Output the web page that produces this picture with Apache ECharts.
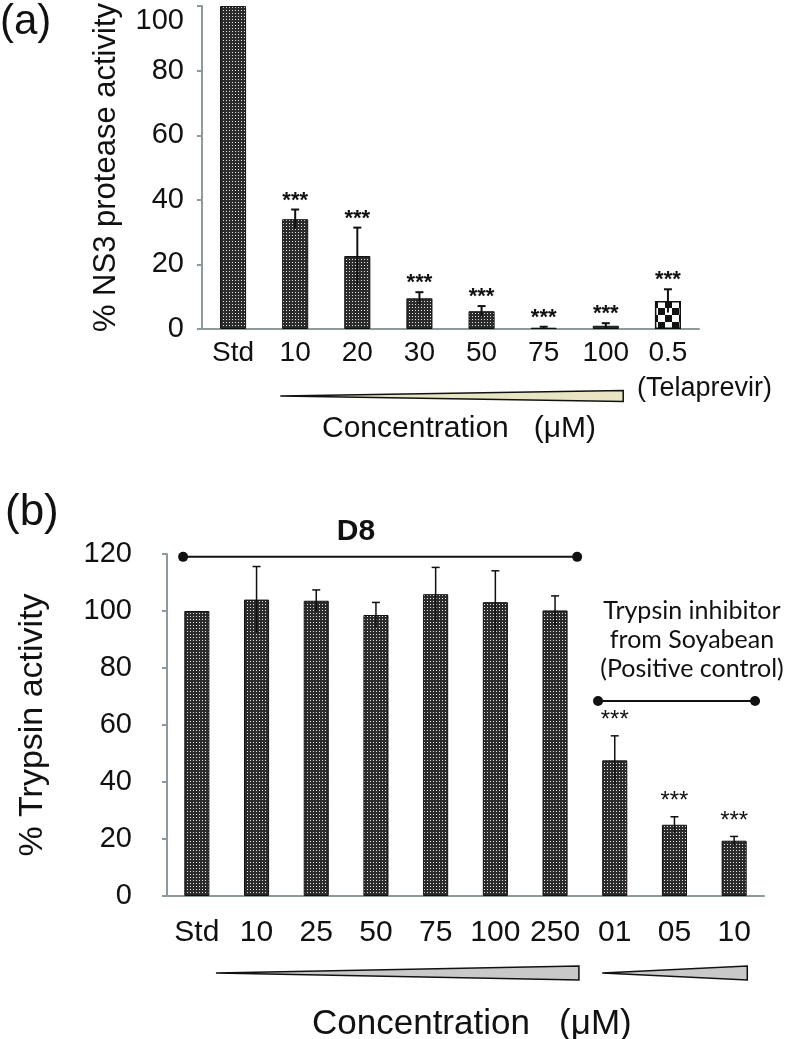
<!DOCTYPE html>
<html lang="en">
<head>
<meta charset="utf-8">
<title>NS3 protease / Trypsin activity</title>
<script src="https://cdn.jsdelivr.net/npm/echarts@6/dist/echarts.min.js"></script>
<style>
    html, body { margin: 0; background: #fff; }
    #main { width: 787px; height: 1039px; }
</style>
</head>
<body>
<div id="main"></div>
<script>
// (a) NS3 protease activity
const catsA = ['Std', '10', '20', '30', '50', '75', '100', '0.5'];
const valsA = [100, 34, 22.6, 9.5, 5.5, 0.4, 1, 8.7];
const errA = [0, 3, 8.8, 1.9, 1.6, 0.3, 0.8, 3.6];
const starsA = [false, true, true, true, true, true, true, true];

// (b) Trypsin activity
const catsB = ['Std', '10', '25', '50', '75', '100', '250', '01', '05', '10'];
const valsB = [100, 104, 103.6, 98.6, 105.9, 103.1, 100.2, 47.6, 25, 19.4];
const errB = [0, 11.6, 3.8, 4.4, 9.4, 11, 5.1, 8.6, 2.8, 1.5];
const starsB = [false, false, false, false, false, false, false, true, true, true];

const ticksA = [0, 100, 20];
const ticksB = [0, 120, 20];

const FONT = '"Liberation Sans", Arial, sans-serif';
const AXIS_GREY = '#8e9a9a';

function dotPattern() {
    const c = document.createElement('canvas');
    c.width = 3; c.height = 3;
    const g = c.getContext('2d');
    g.fillStyle = '#2b2b2b';
    g.fillRect(0, 0, 3, 3);
    g.fillStyle = '#e6e6e6';
    g.fillRect(1, 1, 1, 1);
    return c;
}

function checkPattern() {
    const c = document.createElement('canvas');
    c.width = 14; c.height = 14;
    const g = c.getContext('2d');
    g.fillStyle = '#fff';
    g.fillRect(0, 0, 14, 14);
    g.fillStyle = '#111';
    g.fillRect(0, 0, 7, 7);
    g.fillRect(7, 7, 7, 7);
    return c;
}

const dots = { image: dotPattern(), repeat: 'repeat' };
const checks = { image: checkPattern(), repeat: 'repeat' };

function errorSeries(idx, vals, errs, stars, lw, cap, starFont, starGap) {
    return {
        type: 'custom',
        xAxisIndex: idx,
        yAxisIndex: idx,
        z: 5,
        encode: { x: 0, y: 1 },
        data: vals.map((v, i) => [i, v, errs[i], stars[i] ? 1 : 0]),
        renderItem: function (params, api) {
            const i = api.value(0), v = api.value(1), e = api.value(2);
            const top = api.coord([i, v + e]);
            const low = api.coord([i, Math.max(v - e, 0)]);
            const kids = [];
            if (e > 0) {
                kids.push({ type: 'line', shape: { x1: top[0], y1: low[1], x2: top[0], y2: top[1] },
                    style: { stroke: '#111', lineWidth: lw } });
                kids.push({ type: 'line', shape: { x1: top[0] - cap, y1: top[1], x2: top[0] + cap, y2: top[1] },
                    style: { stroke: '#111', lineWidth: lw } });
            }
            if (api.value(3)) {
                kids.push({ type: 'text', x: top[0], y: top[1] - starGap,
                    style: { text: '***', font: starFont, fill: '#111',
                        align: 'center', verticalAlign: 'middle' } });
            }
            return { type: 'group', children: kids };
        }
    };
}

const chart = echarts.init(document.getElementById('main'));

const option = {
    animation: false,
    grid: [
        { left: 202, top: 4, width: 497, height: 325 },
        { left: 167, top: 554, width: 597, height: 342 }
    ],
    xAxis: [
        {
            type: 'category', gridIndex: 0, data: catsA,
            axisLine: { lineStyle: { color: AXIS_GREY, width: 2 } },
            axisTick: { length: 5, lineStyle: { color: AXIS_GREY, width: 2 } },
            axisLabel: { color: '#111', fontFamily: FONT, fontSize: 28, margin: 10, interval: 0 }
        },
        {
            type: 'category', gridIndex: 1, data: catsB,
            axisLine: { lineStyle: { color: AXIS_GREY, width: 2 } },
            axisTick: { length: 5, lineStyle: { color: AXIS_GREY, width: 2 } },
            axisLabel: { color: '#111', fontFamily: FONT, fontSize: 30, margin: 22, interval: 0 }
        }
    ],
    yAxis: [
        {
            type: 'value', gridIndex: 0, min: ticksA[0], max: ticksA[1], interval: ticksA[2],
            splitLine: { show: false },
            axisLine: { show: true, lineStyle: { color: AXIS_GREY, width: 2 } },
            axisTick: { show: true, length: 5, lineStyle: { color: AXIS_GREY, width: 2 } },
            axisLabel: { color: '#111', fontFamily: FONT, fontSize: 29, margin: 18,
                verticalAlignMaxLabel: 'top' },
            name: '% NS3 protease activity', nameLocation: 'middle', nameGap: 80,
            nameTextStyle: { color: '#111', fontFamily: FONT, fontSize: 31 }
        },
        {
            type: 'value', gridIndex: 1, min: ticksB[0], max: ticksB[1], interval: ticksB[2],
            splitLine: { show: false },
            axisLine: { show: true, lineStyle: { color: AXIS_GREY, width: 2 } },
            axisTick: { show: true, length: 5, lineStyle: { color: AXIS_GREY, width: 2 } },
            axisLabel: { color: '#111', fontFamily: FONT, fontSize: 29, margin: 35 },
            name: '% Trypsin activity', nameLocation: 'middle', nameGap: 117,
            nameTextStyle: { color: '#111', fontFamily: FONT, fontSize: 34 }
        }
    ],
    series: [
        {
            type: 'bar', xAxisIndex: 0, yAxisIndex: 0, barWidth: '42%',
            itemStyle: { color: dots, borderColor: '#111', borderWidth: 1 },
            data: valsA.map((v, i) => i === valsA.length - 1
                ? { value: v, itemStyle: { color: checks, borderColor: '#111', borderWidth: 1.5 } }
                : v)
        },
        {
            type: 'bar', xAxisIndex: 1, yAxisIndex: 1, barWidth: '42%',
            itemStyle: { color: dots, borderColor: '#111', borderWidth: 1 },
            data: valsB
        },
        errorSeries(0, valsA, errA, starsA, 2, 4, 'bold 22px ' + FONT, 9),
        errorSeries(1, valsB, errB, starsB, 1.5, 4, '24px ' + FONT, 15)
    ]
};

chart.setOption(option);

// annotations anchored on the category bands
function bandX(gridIndex, f) {
    const p0 = chart.convertToPixel({ xAxisIndex: gridIndex }, 0);
    const p1 = chart.convertToPixel({ xAxisIndex: gridIndex }, 1);
    const band = p1 - p0;
    return p0 - band / 2 + f * band;
}
function yAt(gridIndex, v) {
    return chart.convertToPixel({ yAxisIndex: gridIndex }, v);
}

function wedge(x1, x2, yc, h, fill) {
    return {
        type: 'polygon',
        shape: { points: [[x1, yc], [x2, yc - h / 2], [x2, yc + h / 2]] },
        style: { fill: fill, stroke: '#111', lineWidth: 1.5 }
    };
}
function bracket(x1, x2, y) {
    return [
        { type: 'line', shape: { x1: x1, y1: y, x2: x2, y2: y }, style: { stroke: '#111', lineWidth: 2 } },
        { type: 'circle', shape: { cx: x1, cy: y, r: 5 }, style: { fill: '#111' } },
        { type: 'circle', shape: { cx: x2, cy: y, r: 5 }, style: { fill: '#111' } }
    ];
}
function label(text, x, y, size, extra) {
    return {
        type: 'text', x: x, y: y,
        style: Object.assign({ text: text, font: size + 'px ' + FONT, fill: '#111',
            align: 'left', verticalAlign: 'middle' }, extra || {})
    };
}

const baseA = yAt(0, 0);
const baseB = yAt(1, 0);
const pcFont = '25px Lato, "Open Sans", sans-serif';

const graphics = [
    label('(a)', 0, 22, 42),
    label('(b)', 5, 513, 44),

    wedge(bandX(0, 1.26), bandX(0, 6.78), baseA + 67, 11, '#e8e5c2'),
    label('(Telaprevir)', 637, baseA + 60, 27),
    label('Concentration   (\u03bcM)', 322, baseA + 100, 30),

    ...bracket(bandX(1, 0.27), bandX(1, 6.87), yAt(1, 119)),
    label('D8', 356, 532, 30, { align: 'center', font: 'bold 30px ' + FONT }),

    { type: 'text', x: 692, y: 611, style: { text: 'Trypsin inhibitor', font: pcFont, fill: '#111', align: 'center', verticalAlign: 'middle' } },
    { type: 'text', x: 692, y: 640, style: { text: 'from Soyabean', font: pcFont, fill: '#111', align: 'center', verticalAlign: 'middle' } },
    { type: 'text', x: 692, y: 669, style: { text: '(Positive control)', font: pcFont, fill: '#111', align: 'center', verticalAlign: 'middle' } },
    ...bracket(bandX(1, 7.22), bandX(1, 9.85), yAt(1, 68.4)),

    wedge(bandX(1, 0.82), bandX(1, 6.9), baseB + 77, 14, '#c9c9c9'),
    wedge(bandX(1, 7.29), bandX(1, 9.72), baseB + 77, 14, '#c9c9c9'),
    label('Concentration   (\u03bcM)', 312, baseB + 128, 35)
];

chart.setOption({ graphic: graphics });

window.onresize = function () {
    chart.resize();
};
</script>
</body>
</html>
